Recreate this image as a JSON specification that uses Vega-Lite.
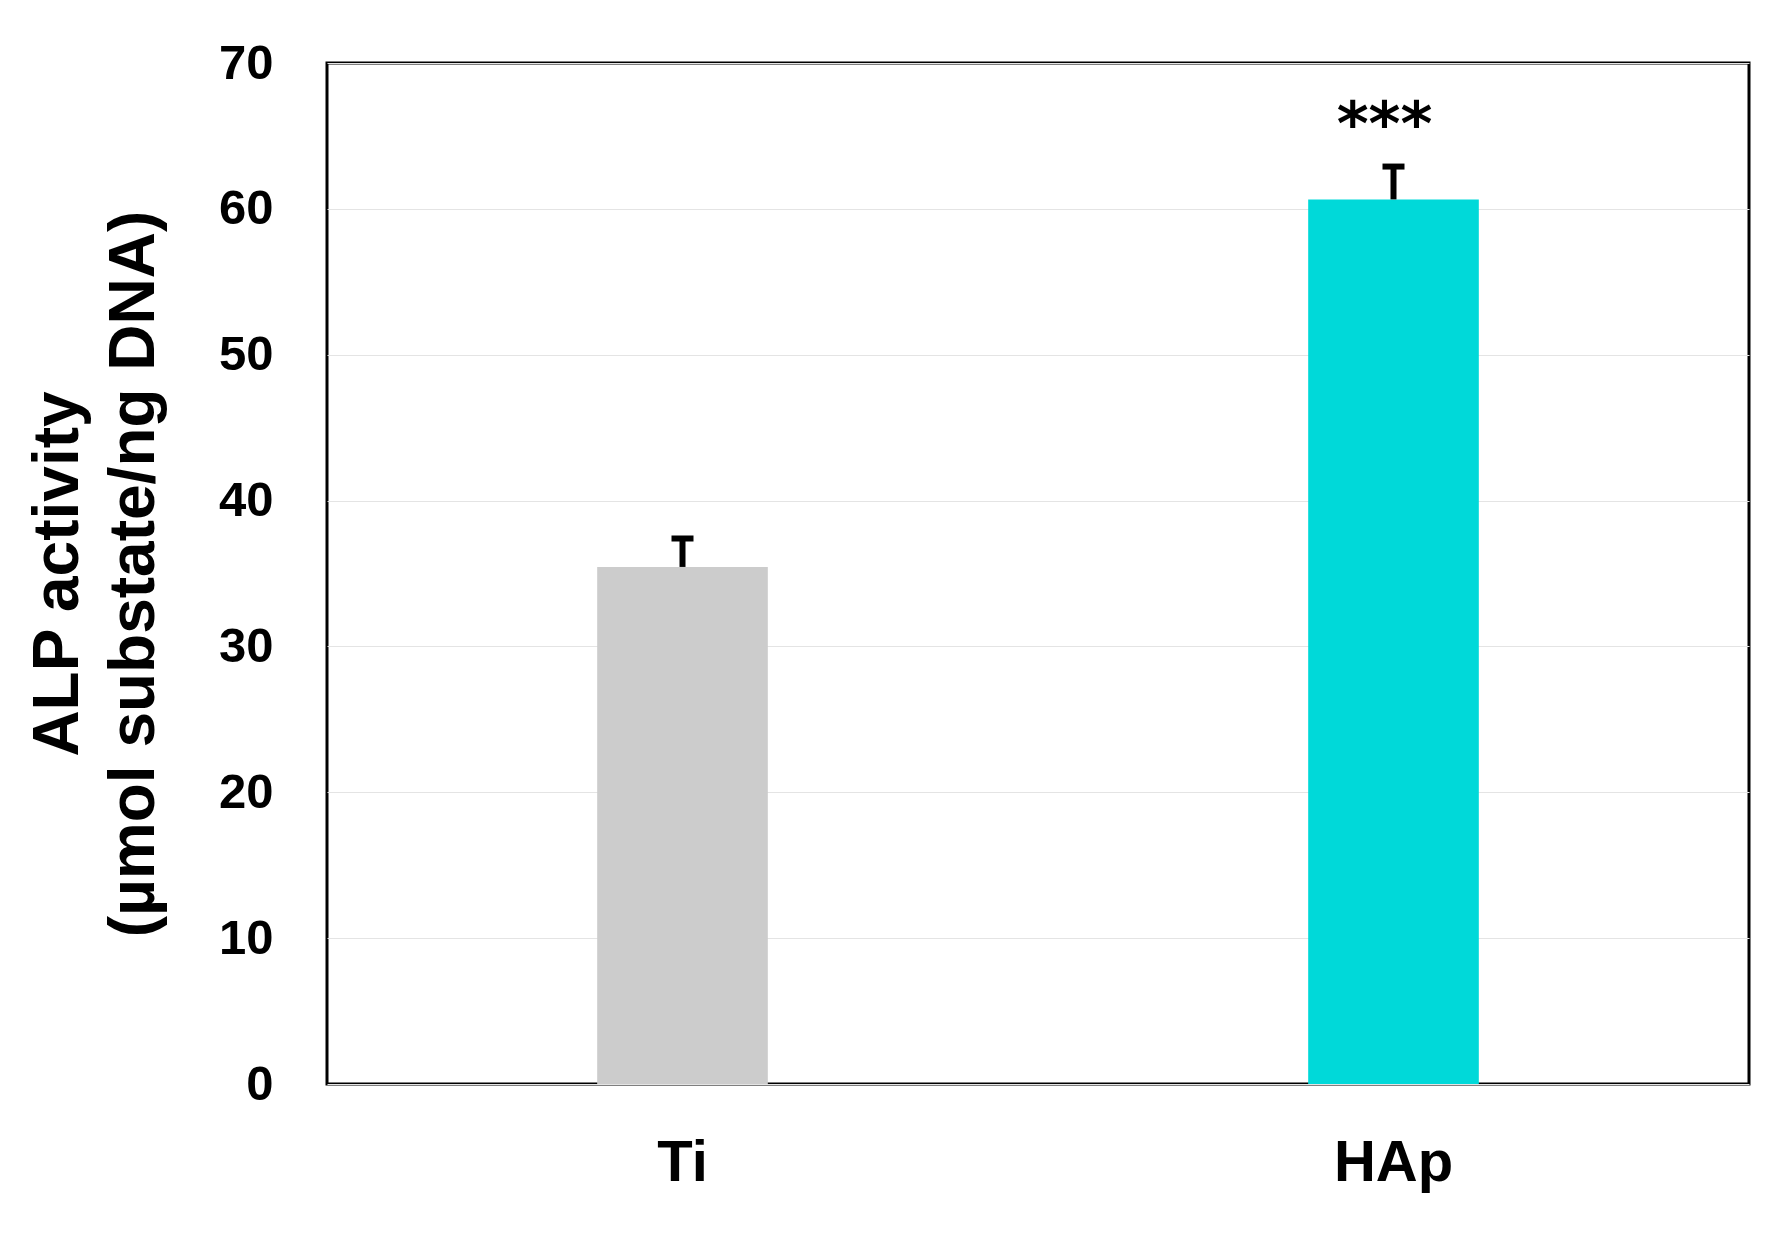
{
  "$schema": "https://vega.github.io/schema/vega-lite/v6.json",
  "width": 1422,
  "height": 1021,
  "autosize": {"type": "none"},
  "padding": {"left": 327, "top": 63, "right": 35, "bottom": 149},
  "background": "white",
  "config": {
    "view": {"stroke": "black", "strokeWidth": 3},
    "font": "Liberation Sans"
  },
  "data": {
    "values": [
      {"group": "Ti", "mean": 35.45, "upper": 37.4, "sig": ""},
      {"group": "HAp", "mean": 60.65, "upper": 62.9, "sig": "***"}
    ]
  },
  "encoding": {
    "x": {
      "field": "group",
      "type": "nominal",
      "sort": ["Ti", "HAp"],
      "scale": {"paddingInner": 0, "paddingOuter": 0},
      "axis": {
        "title": null,
        "labelAngle": 0,
        "labelFont": "Liberation Sans",
        "labelFontSize": 58,
        "labelFontWeight": "bold",
        "labelColor": "black",
        "labelPadding": 50,
        "ticks": false,
        "tickSize": 0,
        "domain": false,
        "grid": false
      }
    },
    "y": {
      "field": "mean",
      "type": "quantitative",
      "scale": {"domain": [0, 70], "nice": false},
      "title": ["ALP activity", "(µmol substate/ng DNA)"],
      "axis": {
        "values": [0, 10, 20, 30, 40, 50, 60, 70],
        "labelFont": "Liberation Sans",
        "labelFontSize": 49,
        "labelFontWeight": "bold",
        "labelColor": "black",
        "labelPadding": 54,
        "ticks": false,
        "tickSize": 0,
        "domain": false,
        "grid": true,
        "gridColor": "#e4e4e4",
        "gridWidth": 1,
        "titleFont": "Liberation Sans",
        "titleFontSize": 64,
        "titleFontWeight": "bold",
        "titleColor": "black",
        "titleLineHeight": 76,
        "titlePadding": 52
      }
    }
  },
  "layer": [
    {
      "mark": {"type": "bar", "width": {"band": 0.24}},
      "encoding": {
        "color": {
          "field": "group",
          "type": "nominal",
          "scale": {"domain": ["Ti", "HAp"], "range": ["#cccccc", "#00d9d9"]},
          "legend": null
        }
      }
    },
    {
      "mark": {"type": "rule", "strokeWidth": 6, "color": "black"},
      "encoding": {
        "y2": {"field": "upper"}
      }
    },
    {
      "mark": {"type": "tick", "orient": "horizontal", "size": 22, "thickness": 6, "color": "black", "opacity": 1},
      "encoding": {
        "y": {"field": "upper", "type": "quantitative", "title": ["ALP activity", "(µmol substate/ng DNA)"]}
      }
    },
    {
      "mark": {"type": "text", "font": "DejaVu Sans", "fontSize": 61, "fontWeight": "bold", "color": "black", "baseline": "alphabetic", "align": "center", "dx": -9, "dy": -22},
      "encoding": {
        "y": {"field": "upper", "type": "quantitative", "title": ["ALP activity", "(µmol substate/ng DNA)"]},
        "text": {"field": "sig"}
      }
    }
  ]
}
